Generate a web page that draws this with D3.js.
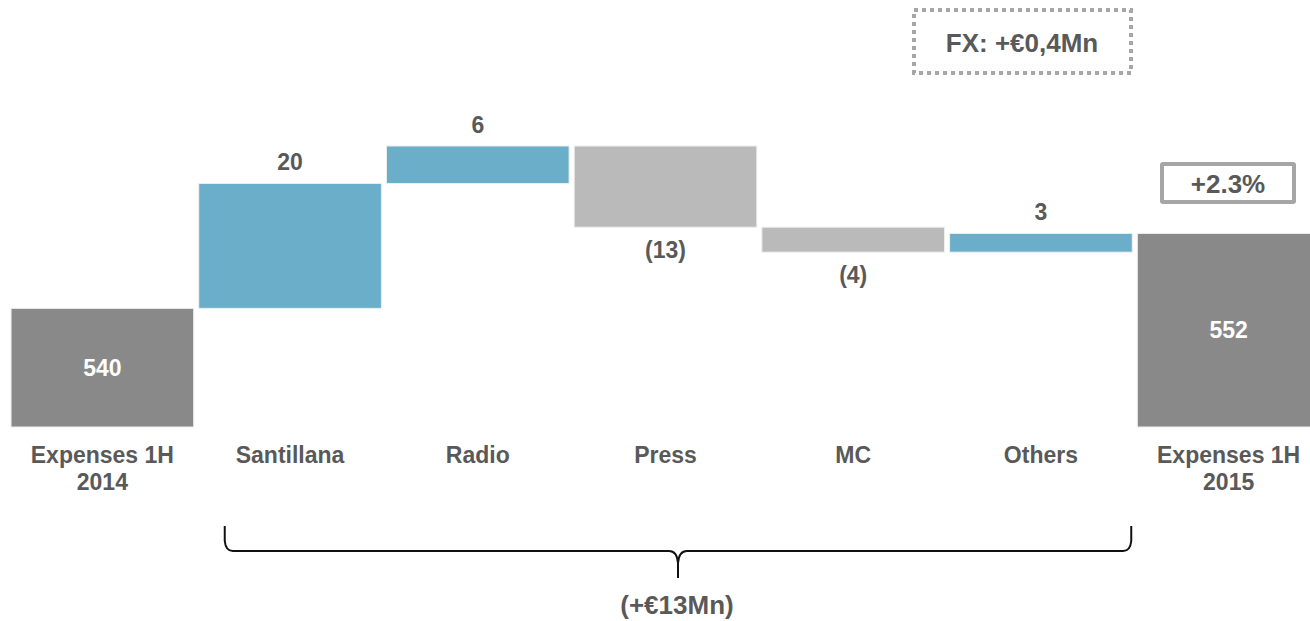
<!DOCTYPE html>
<html>
<head>
<meta charset="utf-8">
<script src="https://cdn.jsdelivr.net/npm/d3@7/dist/d3.min.js"></script>
<style>
  html, body { margin: 0; padding: 0; background: #fff; }
  svg { display: block; }
</style>
</head>
<body>
<svg id="chart" width="1310" height="621"></svg>
<script>
// Expense bridge, 1H 2014 -> 1H 2015 (EUR Mn)
const categories = ["Expenses 1H\n2014", "Santillana", "Radio", "Press", "MC", "Others", "Expenses 1H\n2015"];
const kinds      = ["total", "delta", "delta", "delta", "delta", "delta", "total"];
const values     = [540, 20, 6, -13, -4, 3, 552];
const valueLabels = ["540", "20", "6", "(13)", "(4)", "3", "552"];
const fxNote = "FX: +€0,4Mn";
const growthNote = "+2.3%";
const bracketNote = "(+€13Mn)";

const colors = { total: "#898989", up: "#6aaeca", down: "#bababa", text: "#595959", frame: "#a6a6a6" };
const FONT = "'Liberation Sans', Arial, Helvetica, sans-serif";

const svg = d3.select("#chart")
  .attr("font-family", FONT).attr("font-weight", "bold");

// running start/end for each step
let run = 0;
const steps = categories.map((c, i) => {
  let start, end;
  if (kinds[i] === "total") { start = null; end = values[i]; run = values[i]; }
  else { start = run; end = run + values[i]; run = end; }
  return { cat: c, kind: kinds[i], value: values[i], start, end, label: valueLabels[i] };
});

const x = d3.scaleBand().domain(categories).range([8.5, 1322.5])
  .paddingInner(0.027).paddingOuter(0.0135);
// value axis does not start at zero
const y = d3.scaleLinear().domain([521, 566]).range([427, 146]);
const floor = 521;

const bars = svg.append("g");
steps.forEach(s => {
  const top = s.kind === "total" ? y(s.end) : y(Math.max(s.start, s.end));
  const bottom = s.kind === "total" ? y(floor) : y(Math.min(s.start, s.end));
  const fill = s.kind === "total" ? colors.total : (s.value >= 0 ? colors.up : colors.down);
  bars.append("rect")
    .attr("x", x(s.cat)).attr("y", top)
    .attr("width", x.bandwidth()).attr("height", bottom - top)
    .attr("fill", fill).attr("stroke", "#eeeeee").attr("stroke-width", 1);

  const cx = x(s.cat) + x.bandwidth() / 2;
  const t = bars.append("text").attr("x", cx).attr("text-anchor", "middle")
    .attr("font-size", 23).text(s.label);
  if (s.kind === "total") {
    t.attr("y", (top + bottom) / 2 + 8).attr("fill", "#ffffff");
  } else if (s.value >= 0) {
    t.attr("y", top - 13).attr("fill", colors.text);
  } else {
    t.attr("y", bottom + 31).attr("fill", colors.text);
  }
});

// category labels
const axis = svg.append("g");
categories.forEach(c => {
  const lines = c.split("\n");
  const cx = x(c) + x.bandwidth() / 2;
  const t = axis.append("text").attr("x", cx).attr("y", 463)
    .attr("text-anchor", "middle").attr("font-size", 23).attr("fill", colors.text);
  lines.forEach((ln, j) => t.append("tspan").attr("x", cx)
    .attr("dy", j === 0 ? 0 : 27).text(ln));
});

// brace under the movements
const bx0 = x("Santillana") + 26, bx1 = x("Others") + x.bandwidth() - 1;
const bm = (bx0 + bx1) / 2;
const yTop = 526, yLine = 551, yTip = 578;
const brace = d3.path();
brace.moveTo(bx0, yTop);
brace.lineTo(bx0, yLine - 10);
brace.quadraticCurveTo(bx0 + 1, yLine, bx0 + 8, yLine);
brace.lineTo(bm - 9, yLine);
brace.quadraticCurveTo(bm - 1, yLine, bm, yLine + 12);
brace.lineTo(bm, yTip);
brace.moveTo(bm, yLine + 12);
brace.quadraticCurveTo(bm + 1, yLine, bm + 9, yLine);
brace.lineTo(bx1 - 8, yLine);
brace.quadraticCurveTo(bx1 - 1, yLine, bx1, yLine - 10);
brace.lineTo(bx1, yTop);
svg.append("path").attr("d", brace.toString()).attr("fill", "none")
  .attr("stroke", "#111").attr("stroke-width", 2);
svg.append("text").attr("x", bm - 1).attr("y", 614).attr("text-anchor", "middle")
  .attr("font-size", 26).attr("fill", colors.text).text(bracketNote);

// FX note in dotted frame
svg.append("rect").attr("x", 914).attr("y", 10).attr("width", 217).attr("height", 63)
  .attr("fill", "none").attr("stroke", colors.frame).attr("stroke-width", 4)
  .attr("stroke-dasharray", "4,4");
svg.append("text").attr("x", 1022).attr("y", 52).attr("text-anchor", "middle")
  .attr("font-size", 26).attr("fill", colors.text).text(fxNote);

// growth note
svg.append("rect").attr("x", 1162).attr("y", 164).attr("width", 132).attr("height", 38)
  .attr("fill", "none").attr("stroke", colors.frame).attr("stroke-width", 4).attr("rx", 1);
svg.append("text").attr("x", 1228).attr("y", 193).attr("text-anchor", "middle")
  .attr("font-size", 26).attr("fill", colors.text).text(growthNote);
</script>
</body>
</html>
